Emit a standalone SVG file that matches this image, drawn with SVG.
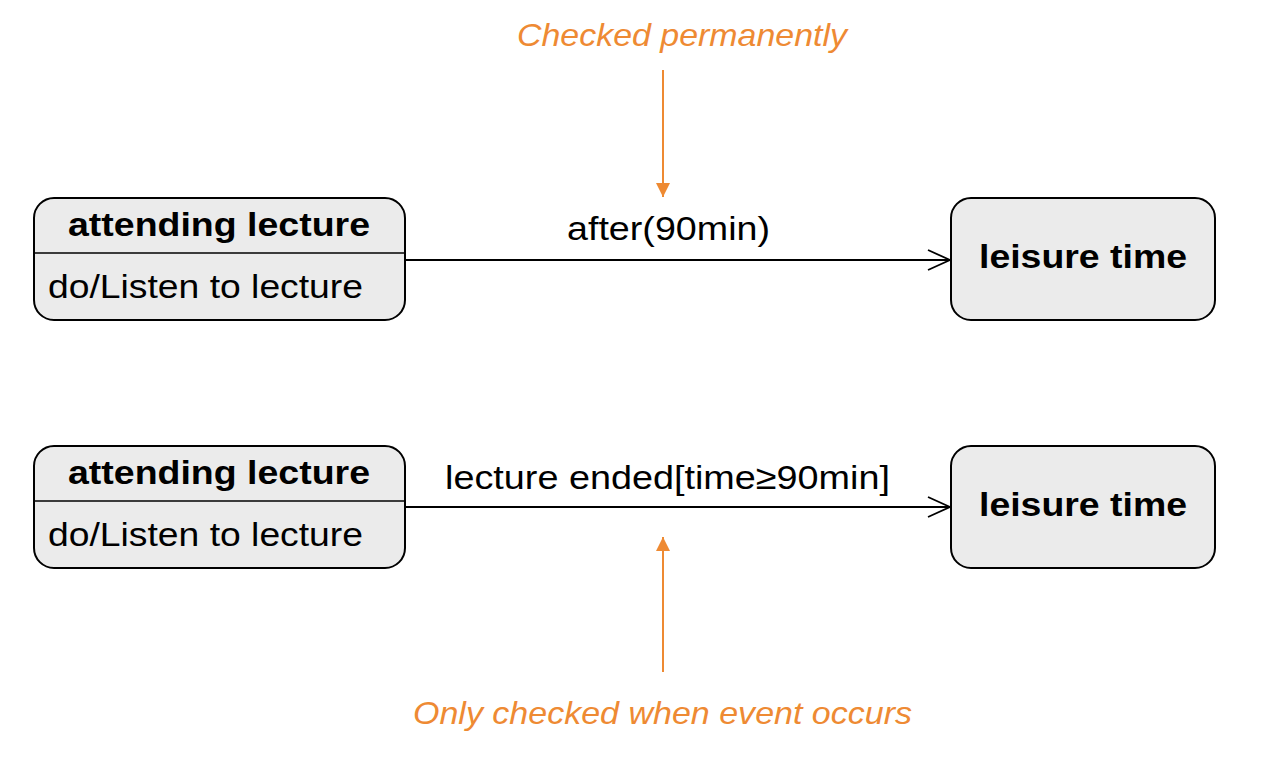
<svg xmlns="http://www.w3.org/2000/svg" width="1264" height="760" viewBox="0 0 1264 760">
<style>
.box{fill:#EBEBEB;stroke:#000;stroke-width:2}
.div{stroke:#000;stroke-width:1.5}
.t{font-family:"Liberation Sans",Arial,sans-serif;font-size:34px;fill:#000}
.b{font-weight:bold}
.conn{stroke:#000;stroke-width:1.8;fill:none}
.note{font-family:"Liberation Sans",Arial,sans-serif;font-size:32px;font-style:italic;fill:#EE8A33}
.oline{stroke:#EE8A33;stroke-width:2}
</style>
<defs>
<marker id="open" viewBox="0 0 24 22" refX="23" refY="11" markerWidth="24" markerHeight="22" markerUnits="userSpaceOnUse" orient="auto">
<path d="M1,1 L23,11 L1,21" fill="none" stroke="#000" stroke-width="1.8"/>
</marker>
<marker id="tri" viewBox="0 0 14 14" refX="14" refY="7" markerWidth="14" markerHeight="14" markerUnits="userSpaceOnUse" orient="auto">
<path d="M0,0 L14,7 L0,14 Z" fill="#EE8A33"/>
</marker>
</defs>
<rect width="1264" height="760" fill="#fff"/>
<g id="connectors">
<line class="conn" x1="406" y1="260" x2="950" y2="260" marker-end="url(#open)"/>
<line class="conn" x1="406" y1="507" x2="950" y2="507" marker-end="url(#open)"/>
<text class="t" x="567" y="240" textLength="203" lengthAdjust="spacingAndGlyphs">after(90min)</text>
<text class="t" x="445" y="489" textLength="445" lengthAdjust="spacingAndGlyphs">lecture ended[time≥90min]</text>
</g>
<g id="node-attending-1">
<rect class="box" x="34" y="198" width="371" height="122" rx="20"/>
<line class="div" x1="34" y1="253" x2="405" y2="253"/>
<text class="t b" x="68" y="236" textLength="302" lengthAdjust="spacingAndGlyphs">attending lecture</text>
<text class="t" x="48" y="298" textLength="315" lengthAdjust="spacingAndGlyphs">do/Listen to lecture</text>
</g>
<g id="node-leisure-1">
<rect class="box" x="951" y="198" width="264" height="122" rx="20"/>
<text class="t b" x="979" y="268" textLength="208" lengthAdjust="spacingAndGlyphs">leisure time</text>
</g>
<g id="node-attending-2">
<rect class="box" x="34" y="446" width="371" height="122" rx="20"/>
<line class="div" x1="34" y1="501" x2="405" y2="501"/>
<text class="t b" x="68" y="484" textLength="302" lengthAdjust="spacingAndGlyphs">attending lecture</text>
<text class="t" x="48" y="546" textLength="315" lengthAdjust="spacingAndGlyphs">do/Listen to lecture</text>
</g>
<g id="node-leisure-2">
<rect class="box" x="951" y="446" width="264" height="122" rx="20"/>
<text class="t b" x="979" y="516" textLength="208" lengthAdjust="spacingAndGlyphs">leisure time</text>
</g>
<g id="annotations">
<text class="note" x="517" y="46" textLength="330" lengthAdjust="spacingAndGlyphs">Checked permanently</text>
<line class="oline" x1="663" y1="70" x2="663" y2="197" marker-end="url(#tri)"/>
<line class="oline" x1="663" y1="672" x2="663" y2="537" marker-end="url(#tri)"/>
<text class="note" x="413" y="724" textLength="499" lengthAdjust="spacingAndGlyphs">Only checked when event occurs</text>
</g>
</svg>
